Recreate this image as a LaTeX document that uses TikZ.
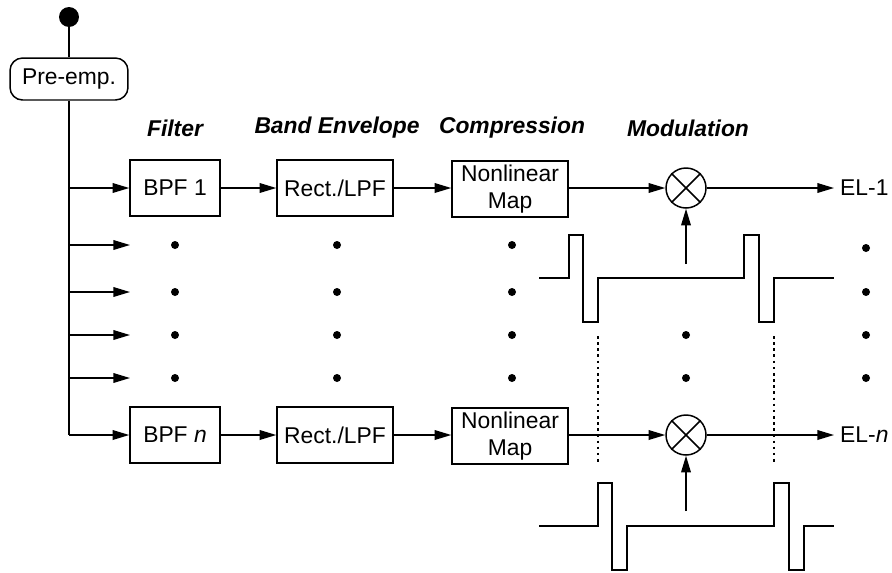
\documentclass[tikz,border=0pt]{standalone}
\usepackage{fontspec}
\setmainfont{Liberation Sans}
\usetikzlibrary{arrows.meta,positioning}

\tikzset{
  blk/.style={draw, line width=0.85pt, minimum height=1.12cm, inner sep=0pt,
    align=center, font=\fontsize{13}{15}\selectfont},
  hdr/.style={font=\fontsize{13}{15}\selectfont\bfseries\itshape},
  dotn/.style={circle, fill, inner sep=0pt, minimum size=0.16cm},
  sig/.style={-{Triangle[length=9.5pt,width=5.5pt]}, line width=0.85pt},
  mult/.style={draw, circle, line width=0.85pt, minimum size=0.8cm, inner sep=0pt},
  wave/.style={line width=0.85pt},
}

\begin{document}
\begin{tikzpicture}[x=0.02cm, y=-0.02cm]
	\useasboundingbox (0,0) rectangle (892,572);
	% input and pre-emphasis
	\node[circle, fill, inner sep=0pt, minimum size=0.4cm] (src) at (69,17) {};
	\node[blk, rounded corners=0.25cm, minimum width=2.36cm, minimum height=0.84cm] (pre) at (69,79) {Pre-emp.};
	\draw[line width=0.85pt] (src) -- (pre);
	% headers
	\node[hdr] (hfil) at (175,128) {Filter};
	\node[hdr] (henv) at (337,128) {Band Envelope};
	\node[hdr] (hcmp) at (512,128) {Compression};
	\node[hdr] (hmod) at (688,128) {Modulation};
	% channel 1
	\node[blk, minimum width=1.8cm] (bpf1) at (175,188) {BPF 1};
	\node[blk, minimum width=2.32cm] (lpf1) at (335,188) {Rect./LPF};
	\node[blk, minimum width=2.32cm] (map1) at (510,189) {Nonlinear\\Map};
	\node[mult] (mul1) at (686,188) {};
	\node[anchor=west, font=\fontsize{13}{15}\selectfont] (out1) at (834,188) {EL-1};
	% channel n
	\node[blk, minimum width=1.8cm] (bpfn) at (175,435) {BPF \textit{n}};
	\node[blk, minimum width=2.32cm] (lpfn) at (335,435) {Rect./LPF};
	\node[blk, minimum width=2.32cm] (mapn) at (510,436) {Nonlinear\\Map};
	\node[mult] (muln) at (686,435) {};
	\node[anchor=west, font=\fontsize{13}{15}\selectfont] (outn) at (834,435) {EL-\textit{n}};
	\foreach \m in {mul1,muln} {
		\draw[line width=0.85pt] (\m.north east) -- (\m.south west);
		\draw[line width=0.85pt] (\m.north west) -- (\m.south east);
	}
	% trunk and branches
	\coordinate (tap1) at (69,188);
	\coordinate (tapn) at (69,435);
	\draw[line width=0.85pt] (pre) -- (tapn);
	\draw[sig] (tap1) -- (bpf1);
	\draw[sig] (tapn) -- (bpfn);
	\foreach \y in {245,292,335,378} {
		\coordinate (t\y) at (69,\y);
		\coordinate (e\y) at (130,\y);
		\draw[sig] (t\y) -- (e\y);
		\node[dotn] at (175,\y) {};
		\node[dotn] at (337,\y) {};
		\node[dotn] at (512,\y) {};
	}
	\foreach \y in {248,292,335,378}
		\node[dotn] at (866,\y) {};
	\foreach \y in {335,378}
		\node[dotn] at (686,\y) {};
	% signal path
	\draw[sig] (bpf1) -- (lpf1);
	\draw[sig] (lpf1) -- (map1.west |- lpf1);
	\draw[sig] (map1.east |- mul1) -- (mul1);
	\draw[sig] (mul1) -- (out1.west);
	\draw[sig] (bpfn) -- (lpfn);
	\draw[sig] (lpfn) -- (mapn.west |- lpfn);
	\draw[sig] (mapn.east |- muln) -- (muln);
	\draw[sig] (muln) -- (outn.west);
	% carrier pulse trains
	\foreach \y/\a/\b in {278/569/744, 526/598/774} {
		\draw[wave] (539,\y) -- (\a,\y) -- (\a,\y-43) -- (\a+14,\y-43) -- (\a+14,\y+44)
			-- (\a+29,\y+44) -- (\a+29,\y) -- (\b,\y) -- (\b,\y-43) -- (\b+15,\y-43)
			-- (\b+15,\y+44) -- (\b+30,\y+44) -- (\b+30,\y) -- (834,\y);
	}
	\coordinate (c1) at (686,264);
	\coordinate (cn) at (686,511);
	\draw[sig] (c1) -- (mul1);
	\draw[sig] (cn) -- (muln);
	% timing marks
	\foreach \x in {598,774}
		\draw[line width=0.85pt, dash pattern=on 1.5pt off 2pt] (\x,336) -- (\x,465);
\end{tikzpicture}
\end{document}
